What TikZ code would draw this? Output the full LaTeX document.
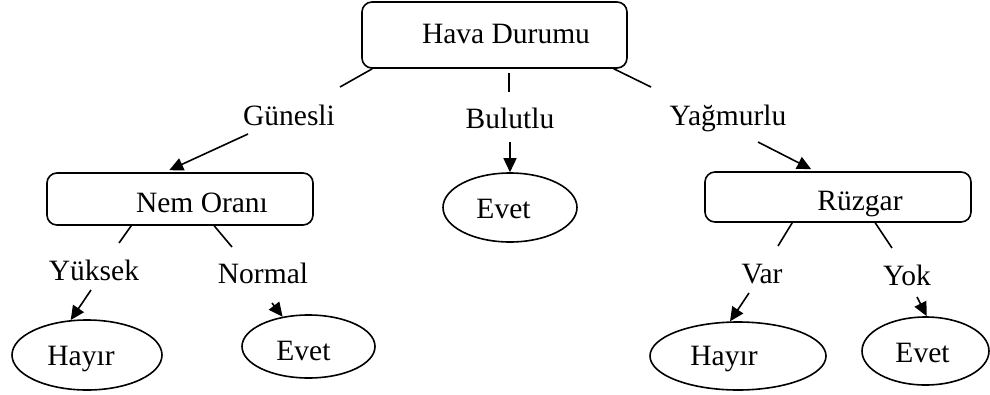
\documentclass[tikz,border=0pt]{standalone}
\usepackage{fontspec}
\setmainfont{Liberation Serif}
\usetikzlibrary{arrows.meta,shapes.geometric}
\begin{document}
\begin{tikzpicture}[x=1pt,y=-1pt,
  every node/.style={font=\fontsize{29.5}{35}\selectfont, inner sep=0pt},
  conn/.style={line width=1.6pt},
  arr/.style={line width=1.6pt, -{Triangle[length=14pt,width=13pt]}},
  box/.style={draw, line width=1.6pt, rounded corners=10pt, text depth=0pt},
  oval/.style={draw, ellipse, line width=1.6pt, text depth=0pt},
  lbl/.style={anchor=base}]
\useasboundingbox (0,0) rectangle (990,394);

% decision boxes
\node[box, minimum width=265pt, minimum height=66pt, text height=16pt] (root) at (494.5,35) {\hspace*{23pt}Hava Durumu};
\node[box, minimum width=266pt, minimum height=52pt, text height=26pt] (nem) at (180,199) {\hspace*{44pt}Nem Oranı};
\node[box, minimum width=266pt, minimum height=50pt, text height=26pt] (rz) at (838,197) {\hspace*{44pt}Rüzgar};

% leaves
\node[oval, minimum width=150pt, minimum height=70pt, text height=20pt] (hl) at (87,355) {Hayır\hspace*{12pt}};
\node[oval, minimum width=133pt, minimum height=63pt, text height=27pt] (el) at (308.5,346.5) {Evet\hspace*{10pt}};
\node[oval, minimum width=134pt, minimum height=69pt, text height=21pt] (em) at (510,207.5) {Evet\hspace*{13pt}};
\node[oval, minimum width=176pt, minimum height=68pt, text height=18pt] (hr) at (738,356) {Hayır\hspace*{28pt}};
\node[oval, minimum width=127pt, minimum height=68pt, text height=22pt] (er) at (925.5,351) {Evet\hspace*{6pt}};

% branch labels
\node[lbl] (gun) at (289,125) {Günesli};
\node[lbl] (bul) at (510,128) {Bulutlu};
\node[lbl] (yag) at (728,125) {Yağmurlu};
\node[lbl] (yuk) at (94,280) {Yüksek};
\node[lbl] (nor) at (263,283) {Normal};
\node[lbl] (var) at (762,283) {Var};
\node[lbl] (yok) at (907,285) {Yok};

% free ends
\coordinate (g1) at (340,87);
\coordinate (b1) at (509,92);
\coordinate (y1) at (651,87);
\coordinate (g2) at (248,134);
\coordinate (b2) at (510,142);
\coordinate (y2) at (758,142);
\coordinate (k1) at (119,243);
\coordinate (n1) at (232,247);
\coordinate (v1) at (778,246);
\coordinate (o1) at (892,248);
\coordinate (k2) at (91,290);
\coordinate (n2) at (272,303);
\coordinate (v2) at (749,293);
\coordinate (o2) at (917,297);

% connectors
\draw[conn] ([xshift=11pt]root.south west) -- (g1);
\draw[conn] ([xshift=14.5pt,yshift=-4pt]root.south) -- (b1);
\draw[conn] ([xshift=-14pt]root.south east) -- (y1);
\draw[arr] (g2) -- ([xshift=123pt,yshift=2pt]nem.north west);
\draw[arr] (b2) -- (em.north);
\draw[arr] (y2) -- ([xshift=107pt,yshift=2pt]rz.north west);
\draw[conn] ([xshift=85pt]nem.south west) -- (k1);
\draw[conn] ([xshift=168pt]nem.south west) -- (n1);
\draw[arr] (k2) -- (hl.115);
\draw[arr] (n2) -- (el.131);
\draw[conn] ([xshift=88pt]rz.south west) -- (v1);
\draw[conn] ([xshift=171pt]rz.south west) -- (o1);
\draw[arr] (v2) -- (hr.103);
\draw[arr] (o2) -- (er.88);
\end{tikzpicture}
\end{document}
